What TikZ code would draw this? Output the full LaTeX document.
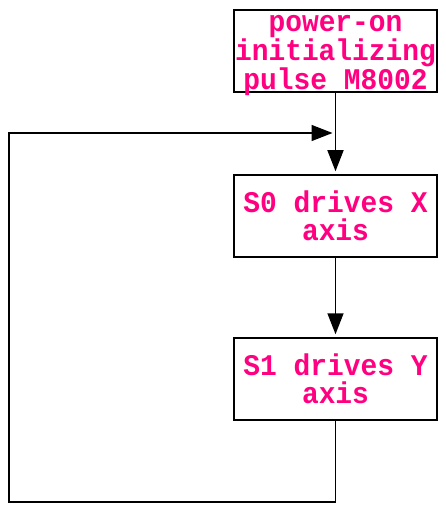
\documentclass[tikz,border=0pt]{standalone}
\usepackage{fontspec}
\newfontfamily\boxfont{Liberation Mono}[FakeStretch=0.93]
\usetikzlibrary{arrows.meta}
\definecolor{txtmag}{RGB}{255,0,128}
\tikzset{
  stepbox/.style={draw=black, line width=1.5pt, minimum width=203pt, minimum height=82pt,
    inner xsep=0pt, inner ysep=-6pt, align=center, text=txtmag,
    font=\boxfont\bfseries\fontsize{30}{27.5}\selectfont},
  conn/.style={line width=1.5pt, draw=black},
  arr/.style={conn, -{Triangle[length=21pt,width=16pt]}}
}
\begin{document}
\begin{tikzpicture}[x=1pt,y=-1pt]
\useasboundingbox (0,0) rectangle (445,505);
\node[stepbox, inner ysep=-10pt] (b1) at (335.5,51) {\rule{0pt}{26pt}power-on\\initializing\\pulse M8002};
\node[stepbox] (b2) at (335.5,216) {S0 drives X\\axis};
\node[stepbox] (b3) at (335.5,379) {S1 drives Y\\axis};
\coordinate (join) at (335.5,133);
\draw[arr, shorten >=3pt] (b1.south) -- (b2.north);
\draw[arr, shorten >=3pt] (b2.south) -- (b3.north);
\draw[arr, shorten >=3pt] (b3.south) -- (335.5,502) -- (9,502) -- (9,133) -- (join);
\end{tikzpicture}
\end{document}
